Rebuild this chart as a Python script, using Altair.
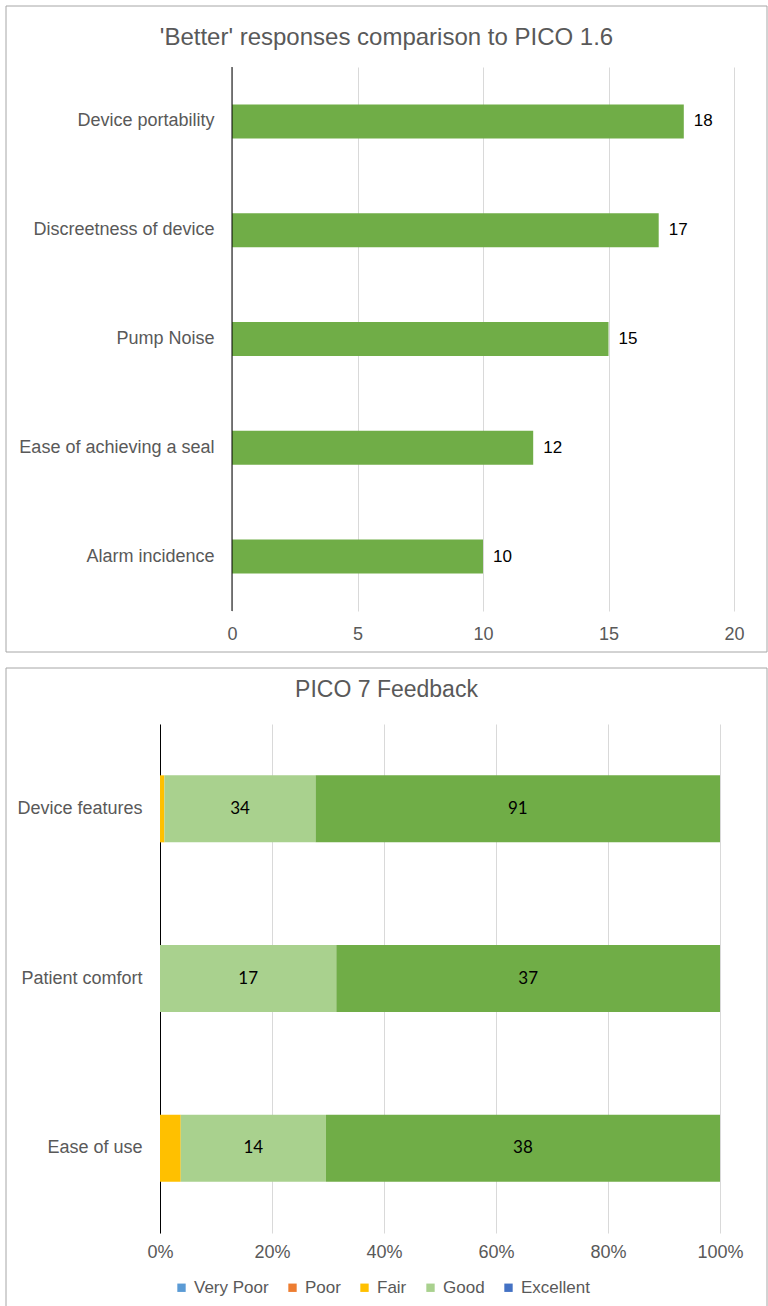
import altair as alt
import pandas as pd

# ---------- data ----------
top_title = "'Better' responses comparison to PICO 1.6"
top_items = ["Device portability", "Discreetness of device", "Pump Noise",
             "Ease of achieving a seal", "Alarm incidence"]
top_values = [18, 17, 15, 12, 10]
top_ticks = [0, 5, 10, 15, 20]

bot_title = "PICO 7 Feedback"
bot_items = ["Device features", "Patient comfort", "Ease of use"]
ratings = ["Very Poor", "Poor", "Fair", "Good", "Excellent"]
very_poor = [0, 0, 0]
poor = [0, 0, 0]
fair = [1, 0, 2]
good = [34, 17, 14]
excellent = [91, 37, 38]
pct_ticks = [0, 0.2, 0.4, 0.6, 0.8, 1.0]

bar_colors = ["#5B9BD5", "#ED7D31", "#FFC000", "#A9D18E", "#70AD47"]
legend_colors = ["#5B9BD5", "#ED7D31", "#FFC000", "#A9D18E", "#4472C4"]

FONT = "Liberation Sans"
GREY = "#595959"
FRAME = "#A6A6A6"

# both panels share the same group origin; the top plot starts SHIFT px further right
SHIFT = 72

# ---------- top panel ----------
top_df = pd.DataFrame({"item": top_items, "value": top_values})
TW, TH = 502, 544

top_frame = alt.Chart(pd.DataFrame({"f": [0]})).mark_rect(
    fillOpacity=0, stroke=FRAME, strokeWidth=1
).encode(x=alt.value(-154), x2=alt.value(607), y=alt.value(-61), y2=alt.value(585))

top_xscale = alt.Scale(domain=[0, 20], nice=False, range=[SHIFT, SHIFT + TW])

top_base = alt.Chart(top_df).encode(
    y=alt.Y("item:N", sort=top_items,
            axis=alt.Axis(title=None, ticks=False, labelFontSize=18, labelColor=GREY,
                          labelFont=FONT, labelPadding=18 - SHIFT, labelLimit=400,
                          domain=False, grid=False)),
    x=alt.X("value:Q", scale=top_xscale,
            axis=alt.Axis(title=None, values=top_ticks, ticks=False, domain=False,
                          grid=True, gridColor="#D9D9D9", labelFontSize=18,
                          labelColor=GREY, labelFont=FONT, labelPadding=14,
                          labelFlush=False)),
)
top_bars = top_base.mark_bar(color="#70AD47", size=34)
top_text = top_base.mark_text(align="left", dx=10, fontSize=17, font=FONT,
                              color="#000000").encode(text="value:Q")
top_axis_line = alt.Chart(pd.DataFrame({"v": [0]})).mark_rule(
    color="#000000", strokeWidth=1
).encode(x=alt.X("v:Q", scale=top_xscale))

top = alt.layer(top_frame, top_bars, top_axis_line, top_text).properties(
    width=SHIFT + TW, height=TH,
    title=alt.TitleParams(top_title, frame="bounds", anchor="middle", offset=-44,
                          fontSize=24, font=FONT, color=GREY, fontWeight="normal"),
)

# ---------- bottom panel ----------
rows = []
series = [very_poor, poor, fair, good, excellent]
for i, it in enumerate(bot_items):
    for r, (name, vals) in enumerate(zip(ratings, series)):
        rows.append({"item": it, "rating": name, "rank": r, "count": vals[i]})
bot_df = pd.DataFrame(rows)
BW, BH = 560, 509

bot_frame = alt.Chart(pd.DataFrame({"f": [0]})).mark_rect(
    fillOpacity=0, stroke=FRAME, strokeWidth=1
).encode(x=alt.value(-154), x2=alt.value(607), y=alt.value(-56), y2=alt.value(583))

stacked = alt.Chart(bot_df).transform_stack(
    stack="count", groupby=["item"], as_=["x0", "x1"],
    sort=[alt.SortField("rank", order="ascending")], offset="normalize"
).transform_calculate(mid="(datum.x0 + datum.x1) / 2")

yenc = alt.Y("item:N", sort=bot_items,
             axis=alt.Axis(title=None, ticks=False, labelFontSize=18, labelColor=GREY,
                           labelFont=FONT, labelPadding=18, labelLimit=400,
                           domainColor="#000000", domainWidth=1, grid=False))
xscale = alt.Scale(domain=[0, 1], nice=False)

bot_bars = stacked.mark_bar(size=67).encode(
    y=yenc,
    x=alt.X("x0:Q", scale=xscale,
            axis=alt.Axis(title=None, values=pct_ticks, format=".0%", ticks=False,
                          domain=False, grid=True, gridColor="#D9D9D9",
                          labelFontSize=18, labelColor=GREY, labelFont=FONT,
                          labelPadding=10, labelFlush=False)),
    x2="x1:Q",
    fill=alt.Fill("rating:N", scale=alt.Scale(domain=ratings, range=bar_colors),
                  legend=None),
)

bot_text = stacked.transform_filter(
    alt.FieldOneOfPredicate(field="rating", oneOf=["Good", "Excellent"])
).mark_text(fontSize=17, font="Lato", color="#000000").encode(
    y=alt.Y("item:N", sort=bot_items),
    x=alt.X("mid:Q", scale=xscale),
    text="count:Q",
)

legend_df = pd.DataFrame({"Rating": ratings})
legend_layer = alt.Chart(legend_df).mark_square(
    size=0, opacity=1, filled=True
).encode(
    x=alt.value(0), y=alt.value(0),
    color=alt.Color("Rating:N", sort=ratings,
                    scale=alt.Scale(domain=ratings, range=legend_colors),
                    legend=alt.Legend(title=None, orient="none", direction="horizontal",
                                      legendX=13, legendY=555, symbolType="square",
                                      symbolSize=70, symbolOpacity=1,
                                      symbolStrokeWidth=0, labelFontSize=17,
                                      labelColor=GREY, labelFont=FONT,
                                      labelOffset=4, columnPadding=15)),
)

bottom = alt.layer(bot_frame, bot_bars, bot_text, legend_layer).properties(
    width=BW, height=BH,
    title=alt.TitleParams(bot_title, frame="bounds", anchor="middle", offset=-34,
                          fontSize=23, font=FONT, color=GREY, fontWeight="normal"),
).resolve_scale(color="independent", fill="independent")

chart = alt.vconcat(top, bottom, spacing=14).properties(
    padding={"left": 5, "top": 5, "right": 0, "bottom": 0},
).configure_view(stroke=None)

chart.save("out.html", embed_options={"renderer": "svg", "actions": False})
